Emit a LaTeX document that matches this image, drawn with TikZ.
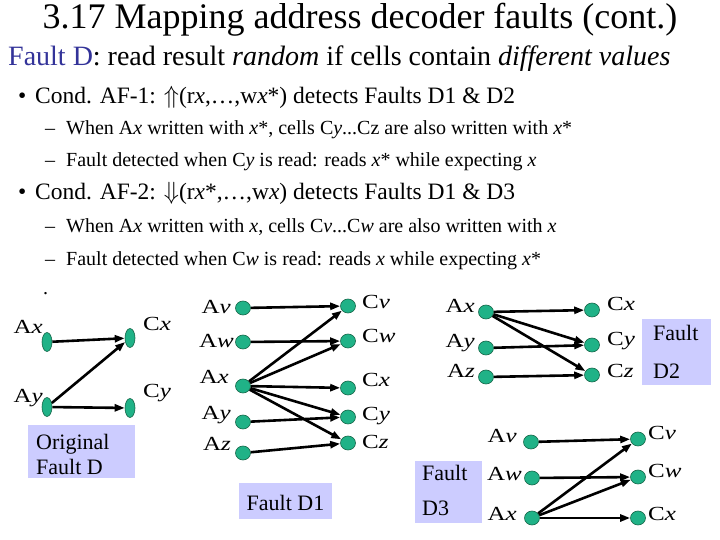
\documentclass[tikz,border=0pt]{standalone}
\usepackage{fontspec}
\setmainfont{Liberation Serif}[ItalicFont={Liberation Serif Italic},BoldFont={Liberation Serif Bold}]
\newfontfamily\lblfont{Liberation Serif}[FakeStretch=1.25,ItalicFont={Liberation Serif Italic}]
\usetikzlibrary{shapes.geometric,arrows.meta}
\definecolor{cellgreen}{RGB}{32,178,135}
\definecolor{celledge}{RGB}{20,100,70}
\definecolor{boxfill}{RGB}{204,204,255}
\definecolor{fblue}{RGB}{51,51,153}
\begin{document}
\begin{tikzpicture}[x=1pt,y=-1pt,
  txt/.style={anchor=base west,inner sep=0pt},
  cell/.style={ellipse,draw=celledge,line width=0.6pt,fill=cellgreen,minimum width=15pt,minimum height=14pt,inner sep=0pt},
  cellL/.style={cell,minimum width=10pt,minimum height=19pt},
  arr/.style={-{Triangle[length=10pt,width=7pt]},line width=2.6pt},
  lblL/.style={anchor=base east,inner sep=0pt,font=\lblfont\fontsize{20}{24}\selectfont},
  lblR/.style={anchor=base west,inner sep=0pt,font=\lblfont\fontsize{20}{24}\selectfont},
  fbox/.style={fill=boxfill,inner sep=0pt},
  ftext/.style={anchor=base west,inner sep=0pt,font=\fontsize{22}{26}\selectfont}
]
\useasboundingbox (0,0) rectangle (720,540);

% title and text
\node[anchor=base,inner sep=0pt,font=\fontsize{36}{40}\selectfont] (title) at (360,29) {3.17 Mapping address decoder faults (cont.)};
\node[txt,font=\fontsize{28}{30}\selectfont] (l2) at (8,66) {{\color{fblue}Fault D}: read result \textit{random} if cells contain \textit{different values}};
\node[txt,font=\fontsize{23.5}{26}\selectfont] (b1d) at (18,104) {\textbullet};
\node[txt,font=\fontsize{23.5}{26}\selectfont] (b1) at (35,104) {Cond. AF-1: $\Uparrow$(r\textit{x},\ldots,w\textit{x}*) detects Faults D1 \& D2};
\node[txt,font=\fontsize{20}{24}\selectfont] (s1d) at (45,135) {--};
\node[txt,font=\fontsize{20}{24}\selectfont] (s1) at (66,135) {When A\textit{x} written with \textit{x}*, cells C\textit{y}...Cz are also written with \textit{x}*};
\node[txt,font=\fontsize{20}{24}\selectfont] (s2d) at (45,167) {--};
\node[txt,font=\fontsize{20}{24}\selectfont] (s2) at (66,167) {Fault detected when C\textit{y} is read: reads \textit{x}* while expecting \textit{x}};
\node[txt,font=\fontsize{23.5}{26}\selectfont] (b2d) at (18,200) {\textbullet};
\node[txt,font=\fontsize{23.5}{26}\selectfont] (b2) at (35,200) {Cond. AF-2: $\Downarrow$(r\textit{x}*,\ldots,w\textit{x}) detects Faults D1 \& D3};
\node[txt,font=\fontsize{20}{24}\selectfont] (s3d) at (45,233) {--};
\node[txt,font=\fontsize{20}{24}\selectfont] (s3) at (66,233) {When A\textit{x} written with \textit{x}, cells C\textit{v}...C\textit{w} are also written with \textit{x}};
\node[txt,font=\fontsize{20}{24}\selectfont] (s4d) at (45,265) {--};
\node[txt,font=\fontsize{20}{24}\selectfont] (s4) at (66,265) {Fault detected when C\textit{w} is read: reads \textit{x} while expecting \textit{x}*};
\node[txt,font=\fontsize{20}{24}\selectfont] (dot) at (43,294) {.};

% ---- Original Fault D
\node[cellL] (oAx) at (47,342) {};
\node[cellL] (oCx) at (130,338) {};
\node[cellL] (oAy) at (47,407) {};
\node[cellL] (oCy) at (130,408) {};
\node[lblL] (toAx) at (43,333) {A\textit{x}};
\node[lblR] (toCx) at (143,330) {C\textit{x}};
\node[lblL] (toAy) at (43,402) {A\textit{y}};
\node[lblR] (toCy) at (143,397) {C\textit{y}};
\draw[arr] (oAx) -- (oCx);
\draw[arr] (oAy) -- (oCx);
\draw[arr] (oAy) -- (oCy);
\fill[boxfill] (28,425) rectangle (135,478);
\node[ftext] (orig1) at (36,449) {Original};
\node[ftext] (orig2) at (36,474) {Fault D};

% ---- Fault D1
\node[cell] (aAv) at (243,308) {};
\node[cell] (aAw) at (243,342) {};
\node[cell] (aAx) at (243,386) {};
\node[cell] (aAy) at (243,422) {};
\node[cell] (aAz) at (243,453) {};
\node[cell] (aCv) at (348,306) {};
\node[cell] (aCw) at (348,341) {};
\node[cell] (aCx) at (348,388) {};
\node[cell] (aCy) at (348,417) {};
\node[cell] (aCz) at (348,443) {};
\node[lblL] at (231,313) {A\textit{v}};
\node[lblL] at (234,347) {A\textit{w}};
\node[lblL] at (229,383) {A\textit{x}};
\node[lblL] at (231,419) {A\textit{y}};
\node[lblL] at (231,450) {A\textit{z}};
\node[lblR] at (362,308) {C\textit{v}};
\node[lblR] at (362,342) {C\textit{w}};
\node[lblR] at (362,386) {C\textit{x}};
\node[lblR] at (362,420) {C\textit{y}};
\node[lblR] at (362,448) {C\textit{z}};
\draw[arr] (aAv) -- (aCv);
\draw[arr] (aAw) -- (aCw);
\draw[arr] (aAx) -- (aCv);
\draw[arr] (aAx) -- (aCw);
\draw[arr] (aAx) -- (aCx);
\draw[arr] (aAx) -- (aCy);
\draw[arr] (aAx) -- (aCz);
\draw[arr] (aAy) -- (aCy);
\draw[arr] (aAz) -- (aCz);
\node[fbox,minimum width=93pt,minimum height=36pt] (bD1) at (285.5,501) {};
\node[anchor=base,inner sep=0pt,font=\fontsize{22}{26}\selectfont] at (285.5,510) {Fault D1};

% ---- Fault D2
\node[cell] (bAx) at (486,312) {};
\node[cell] (bAy) at (486,348) {};
\node[cell] (bAz) at (486,377) {};
\node[cell] (bCx) at (592,310) {};
\node[cell] (bCy) at (592,345) {};
\node[cell] (bCz) at (592,375) {};
\node[lblL] at (475,312) {A\textit{x}};
\node[lblL] at (475,347) {A\textit{y}};
\node[lblL] at (475,377) {A\textit{z}};
\node[lblR] at (607,310) {C\textit{x}};
\node[lblR] at (607,345) {C\textit{y}};
\node[lblR] at (607,377) {C\textit{z}};
\draw[arr] (bAx) -- (bCx);
\draw[arr] (bAx) -- (bCy);
\draw[arr] (bAx) -- (bCz);
\draw[arr] (bAy) -- (bCy);
\draw[arr] (bAz) -- (bCz);
\fill[boxfill] (642,319) rectangle (711,385);
\node[ftext] (d2a) at (653,340) {Fault};
\node[ftext] (d2b) at (653,378) {D2};

% ---- Fault D3
\node[cell] (cAv) at (531,442) {};
\node[cell] (cAw) at (532,478) {};
\node[cell] (cAx) at (532,518) {};
\node[cell] (cCv) at (638,439) {};
\node[cell] (cCw) at (638,477) {};
\node[cell] (cCx) at (638,518) {};
\node[lblL] at (517,442) {A\textit{v}};
\node[lblL] at (522,480) {A\textit{w}};
\node[lblL] at (517,520) {A\textit{x}};
\node[lblR] at (648,439) {C\textit{v}};
\node[lblR] at (648,477) {C\textit{w}};
\node[lblR] at (648,520) {C\textit{x}};
\draw[arr] (cAv) -- (cCv);
\draw[arr] (cAw) -- (cCw);
\draw[arr] (cAx) -- (cCv);
\draw[arr] (cAx) -- (cCw);
\draw[arr] (cAx) -- (cCx);
\fill[boxfill] (415,461) rectangle (482,523);
\node[ftext] (d3a) at (422,480) {Fault};
\node[ftext] (d3b) at (422,515) {D3};
\end{tikzpicture}
\end{document}
